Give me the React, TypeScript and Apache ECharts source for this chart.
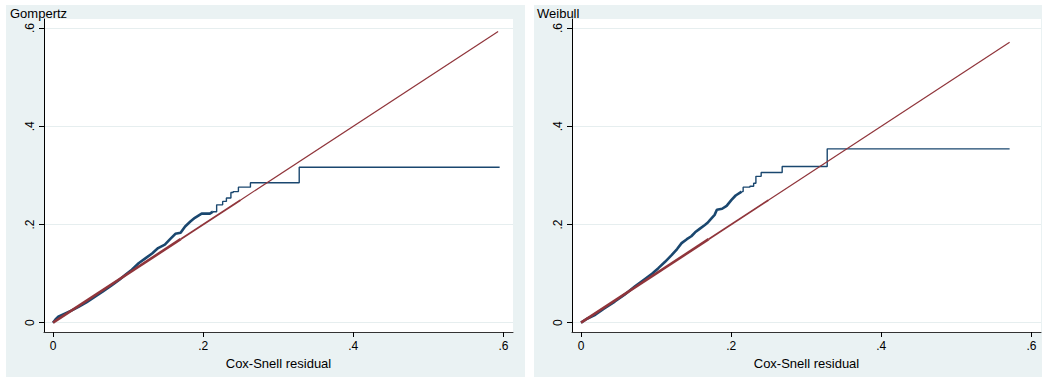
import React, { useEffect, useRef } from "react";
import * as echarts from "echarts";

// ---- data ----
const tickValues = [0, 0.2, 0.4, 0.6];
const tickLabels = ["0", ".2", ".4", ".6"];
const panelTitles = ["Gompertz", "Weibull"];
const xTitle = "Cox-Snell residual";

// Gompertz: Nelson-Aalen cumulative hazard vs Cox-Snell residual
const gompertzDense: [number, number][] = [
  [0, 0], [0.003, 0.006], [0.007, 0.012], [0.015, 0.018], [0.025, 0.025],
  [0.034, 0.032], [0.045, 0.042], [0.055, 0.052], [0.066, 0.063], [0.078, 0.076],
  [0.088, 0.087], [0.096, 0.097], [0.105, 0.108], [0.114, 0.121], [0.123, 0.131],
  [0.132, 0.141], [0.140, 0.152], [0.149, 0.159], [0.156, 0.170], [0.163, 0.181],
  [0.170, 0.183], [0.176, 0.196], [0.183, 0.206], [0.189, 0.2135], [0.198, 0.222],
  [0.209, 0.222], [0.213, 0.226],
];
const gompertzTail: [number, number][] = [
  [0.213, 0.226], [0.218, 0.240], [0.226, 0.247], [0.231, 0.254], [0.237, 0.265],
  [0.240, 0.267], [0.247, 0.276], [0.263, 0.285], [0.328, 0.3167], [0.595, 0.3167],
];
const gompertzRef: [number, number][][] = [
  [[0, 0], [0.17, 0.17]],
  [[0.17, 0.17], [0.25, 0.25]],
  [[0.25, 0.25], [0.593, 0.593]],
];

// Weibull
const weibullDense: [number, number][] = [
  [0, 0], [0.008, 0.008], [0.019, 0.016], [0.030, 0.028], [0.045, 0.043],
  [0.058, 0.057], [0.072, 0.074], [0.087, 0.091], [0.095, 0.100], [0.103, 0.111],
  [0.112, 0.124], [0.121, 0.138], [0.128, 0.150], [0.134, 0.162], [0.141, 0.170],
  [0.147, 0.176], [0.152, 0.184], [0.158, 0.191], [0.165, 0.199], [0.169, 0.204],
  [0.172, 0.2095], [0.178, 0.2196], [0.181, 0.230], [0.188, 0.232], [0.194, 0.238],
  [0.2005, 0.250], [0.206, 0.259], [0.214, 0.267],
];
const weibullTail: [number, number][] = [
  [0.214, 0.267], [0.216, 0.276], [0.225, 0.278], [0.230, 0.284], [0.233, 0.298],
  [0.240, 0.306], [0.268, 0.318], [0.328, 0.354], [0.571, 0.354],
];
const weibullRef: [number, number][][] = [
  [[0, 0], [0.17, 0.17]],
  [[0.17, 0.17], [0.25, 0.25]],
  [[0.25, 0.25], [0.571, 0.571]],
];

// ---- styles ----
const FONT = "'Liberation Sans', Arial, sans-serif";
const BLUE = "#1a476f";
const RED = "#90353b";
const PANEL_BG = "#eaf2f3";
const GRID_LINE = "#e6eeef";
const X_MIN = -0.012;
const X_MAX = 0.6128;
const Y_MIN = -0.019;
const Y_MAX = 0.6185;
const REF_WIDTHS = [2.6, 1.8, 1.2];

const fmt = (v: number) => {
  const i = tickValues.findIndex((t) => Math.abs(t - v) < 1e-9);
  return i >= 0 ? tickLabels[i] : "";
};

function xAxis(gridIndex: number) {
  return {
    type: "value",
    gridIndex,
    min: X_MIN,
    max: X_MAX,
    axisLine: { show: true, onZero: false, lineStyle: { color: "#333", width: 1 } },
    axisTick: { show: true, length: 5, customValues: tickValues, lineStyle: { color: "#000", width: 1 } },
    axisLabel: {
      customValues: tickValues,
      formatter: fmt,
      margin: 8,
      fontSize: 12,
      color: "#000",
      fontFamily: FONT,
    },
    splitLine: { show: false },
    name: xTitle,
    nameLocation: "middle",
    nameGap: 20,
    nameTextStyle: { fontSize: 13, color: "#000", fontFamily: FONT },
  };
}

function yAxis(gridIndex: number) {
  return {
    type: "value",
    gridIndex,
    min: Y_MIN,
    max: Y_MAX,
    axisLine: { show: true, onZero: false, lineStyle: { color: "#000", width: 1 } },
    axisTick: { show: true, length: 5, customValues: tickValues, lineStyle: { color: "#000", width: 1 } },
    axisLabel: {
      customValues: tickValues,
      formatter: fmt,
      rotate: 90,
      margin: 8,
      fontSize: 12,
      color: "#000",
      fontFamily: FONT,
    },
    splitLine: { show: false },
  };
}

function panelSeries(
  idx: number,
  dense: [number, number][],
  tail: [number, number][],
  refParts: [number, number][][]
) {
  const common = {
    type: "line",
    xAxisIndex: idx,
    yAxisIndex: idx,
    showSymbol: false,
    symbol: "none",
    silent: true,
  };
  return [
    {
      ...common,
      data: [],
      z: 0,
      markLine: {
        z: 0,
        symbol: "none",
        silent: true,
        label: { show: false },
        lineStyle: { color: GRID_LINE, width: 1, type: "solid" },
        data: tickValues.map((v) => ({ yAxis: v })),
      },
    },
    { ...common, data: dense, lineStyle: { color: BLUE, width: 2.6 }, z: 2 },
    { ...common, data: tail, step: "end", lineStyle: { color: BLUE, width: 1.4 }, z: 2 },
    ...refParts.map((part, i) => ({
      ...common,
      data: part,
      lineStyle: { color: RED, width: REF_WIDTHS[i] },
      z: 3,
    })),
  ];
}

export default function App() {
  const ref = useRef<HTMLDivElement>(null);
  useEffect(() => {
    if (!ref.current) return;
    const chart = echarts.init(ref.current, null, { renderer: "svg" });
    chart.setOption({
      animation: false,
      backgroundColor: "#ffffff",
      textStyle: { fontFamily: FONT },
      graphic: [
        { type: "rect", z: -10, shape: { x: 6, y: 5, width: 519, height: 372 }, style: { fill: PANEL_BG } },
        { type: "rect", z: -10, shape: { x: 534, y: 5, width: 508, height: 372 }, style: { fill: PANEL_BG } },
      ],
      title: [
        {
          text: panelTitles[0],
          left: 10,
          top: 7,
          padding: 0,
          textStyle: { fontSize: 13, fontWeight: "normal", color: "#000", fontFamily: FONT },
        },
        {
          text: panelTitles[1],
          left: 537,
          top: 7,
          padding: 0,
          textStyle: { fontSize: 13, fontWeight: "normal", color: "#000", fontFamily: FONT },
        },
      ],
      grid: [
        { left: 44, top: 19, width: 469, height: 313, show: true, backgroundColor: "#fff", borderWidth: 0 },
        { left: 572, top: 19, width: 469, height: 313, show: true, backgroundColor: "#fff", borderWidth: 0 },
      ],
      xAxis: [xAxis(0), xAxis(1)],
      yAxis: [yAxis(0), yAxis(1)],
      series: [
        ...panelSeries(0, gompertzDense, gompertzTail, gompertzRef),
        ...panelSeries(1, weibullDense, weibullTail, weibullRef),
      ],
    });
    return () => chart.dispose();
  }, []);
  return (
    <div
      ref={ref}
      style={{ position: "fixed", left: 0, top: 0, width: 1042, height: 378 }}
    />
  );
}
